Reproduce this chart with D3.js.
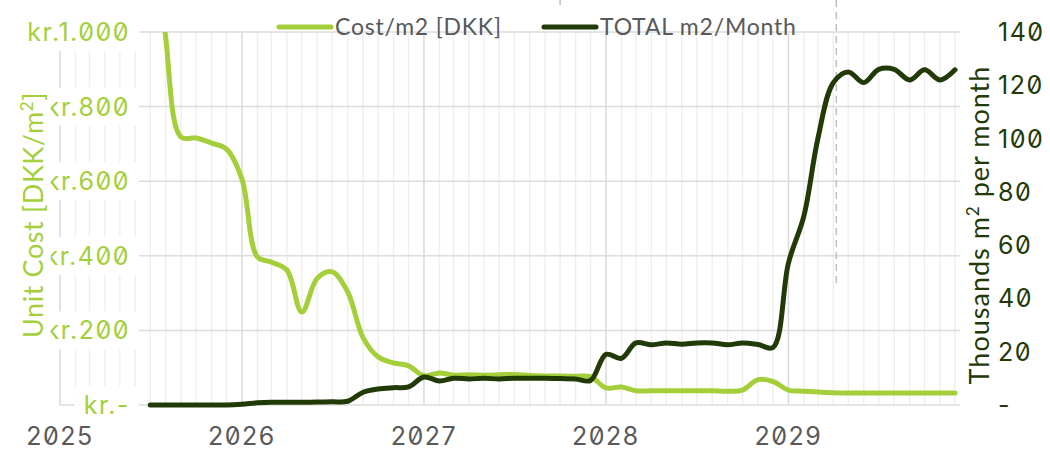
<!DOCTYPE html>
<html>
<head>
<meta charset="utf-8">
<script src="https://cdn.jsdelivr.net/npm/d3@7"></script>
<style>
  body { margin: 0; background: #fff; }
  svg { display: block; }
  .num { font-family: Inter, sans-serif; font-feature-settings: "zero"; letter-spacing: 1.5px; }
  .lbl { font-family: Lato, sans-serif; }
</style>
</head>
<body>
<div class="chart"></div>
<script>
// months Jul 2025 .. Dec 2029
var months = d3.timeMonth.range(new Date(2025, 6, 1), new Date(2030, 0, 1));

// Cost/m2 [DKK]
var costValues = [1500, 985, 718, 716, 702, 686,
                  605, 397, 383, 362, 249, 340, 357, 303, 180, 129, 113, 105,
                  78, 86, 80, 81, 80, 81, 82, 79, 78, 78, 77, 76,
                  46, 48, 38, 38, 38, 38, 38, 38, 37, 40, 68, 63,
                  40, 37, 35, 33, 32, 32, 32, 32, 32, 32, 32, 32];

// TOTAL m2/Month (thousands)
var totalValues = [0, 0, 0, 0, 0, 0,
                   0.3, 0.8, 1, 1, 1, 1.1, 1.2, 1.4, 4.8, 6, 6.5, 6.8,
                   10.5, 9, 10, 9.8, 10, 9.8, 10, 10, 10, 9.9, 9.8, 9.2,
                   19, 17.5, 23.3, 22.6, 23.3, 22.8, 23.3, 23.3, 22.6, 23.3, 22.7, 21.6,
                   53.3, 71, 100, 121, 125, 121, 126, 126, 122, 125.8, 122, 125.8];

var leftTicks = [0, 200, 400, 600, 800, 1000];
var leftLabels = ["kr.-", "kr.200", "kr.400", "kr.600", "kr.800", "kr.1.000"];
var rightTicks = [0, 20, 40, 60, 80, 100, 120, 140];
var rightLabels = ["-", "20", "40", "60", "80", "100", "120", "140"];
var years = [2025, 2026, 2027, 2028, 2029];

var seriesNames = ["Cost/m2 [DKK]", "TOTAL m2/Month"];
var lightGreen = "#a4cf3a", darkGreen = "#223a08";

var width = 1050, height = 452;
var plot = { left: 60, right: 960, top: 32, bottom: 405 };

var svg = d3.select(".chart").append("svg")
    .attr("width", width)
    .attr("height", height);

var x = d3.scaleTime()
    .domain([new Date(2025, 0, 1), new Date(2029, 11, 1)])
    .range([60, 955]);
var yL = d3.scaleLinear().domain([0, 1000]).range([plot.bottom, plot.top]);
var yR = d3.scaleLinear().domain([0, 140]).range([plot.bottom, plot.top]);

// grid
var monthTicks = d3.timeMonth.range(new Date(2025, 0, 1), new Date(2030, 0, 1));
svg.append("g").selectAll("line")
    .data(monthTicks)
    .enter().append("line")
    .attr("x1", function(d) { return x(d); })
    .attr("x2", function(d) { return x(d); })
    .attr("y1", plot.top)
    .attr("y2", plot.bottom)
    .attr("stroke", function(d) { return d.getMonth() === 0 ? "#d9d9d9" : "#efefef"; })
    .attr("stroke-width", 1.5);

svg.append("g").selectAll("line")
    .data(leftTicks)
    .enter().append("line")
    .attr("x1", plot.left)
    .attr("x2", plot.right)
    .attr("y1", function(d) { return yL(d); })
    .attr("y2", function(d) { return yL(d); })
    .attr("stroke", "#dcdcdc")
    .attr("stroke-width", 1.5);

// left tick labels with white boxes
var lt = svg.append("g").selectAll("g")
    .data(leftTicks)
    .enter().append("g");
lt.append("rect").attr("fill", "#fff");
lt.append("text")
    .attr("class", "num")
    .attr("x", 130)
    .attr("y", function(d) { return yL(d); })
    .attr("dy", "0.36em")
    .attr("text-anchor", "end")
    .attr("font-size", "25px")
    .attr("fill", lightGreen)
    .text(function(d, i) { return leftLabels[i]; });
lt.each(function() {
    var b = d3.select(this).select("text").node().getBBox();
    d3.select(this).select("rect")
      .attr("x", b.x - 9).attr("y", b.y - 4)
      .attr("width", b.width + 18).attr("height", b.height + 8);
});

// right tick labels
svg.append("g").selectAll("text")
    .data(rightTicks)
    .enter().append("text")
    .attr("class", "num")
    .attr("x", 998)
    .attr("y", function(d) { return yR(d); })
    .attr("dy", "0.36em")
    .attr("font-size", "25px")
    .attr("fill", darkGreen)
    .text(function(d, i) { return rightLabels[i]; });

// x labels
svg.append("g").selectAll("text")
    .data(years)
    .enter().append("text")
    .attr("class", "num")
    .attr("x", function(d) { return x(new Date(d, 0, 1)); })
    .attr("y", 445)
    .attr("text-anchor", "middle")
    .attr("font-size", "25px")
    .attr("fill", "#595959")
    .text(function(d) { return d; });

// axis titles
var lTitle = svg.append("g").attr("transform", "translate(33,215) rotate(-90)");
lTitle.append("rect").attr("fill", "#fff");
lTitle.append("text")
    .attr("class", "lbl")
    .attr("text-anchor", "middle")
    .attr("dy", "0.36em")
    .attr("font-size", "27px")
    .attr("letter-spacing", "0.6px")
    .attr("fill", lightGreen)
    .html('Unit Cost [DKK/m<tspan dy="-10" font-size="17px">2</tspan><tspan dy="10">]</tspan>');
var lb = lTitle.select("text").node().getBBox();
lTitle.select("rect").attr("x", lb.x - 4).attr("y", lb.y - 2)
    .attr("width", lb.width + 8).attr("height", lb.height + 4);

svg.append("text")
    .attr("class", "lbl")
    .attr("transform", "translate(979,225) rotate(-90)")
    .attr("text-anchor", "middle")
    .attr("dy", "0.36em")
    .attr("font-size", "27px")
    .attr("letter-spacing", "1px")
    .attr("fill", darkGreen)
    .html('Thousands m<tspan dy="-10" font-size="17px">2</tspan><tspan dy="10"> per month</tspan>');

// dashed markers
svg.append("line")
    .attr("x1", x(new Date(2029, 3, 7))).attr("x2", x(new Date(2029, 3, 7)))
    .attr("y1", 0).attr("y2", 285)
    .attr("stroke", "#bdbdbd").attr("stroke-width", 1.5)
    .attr("stroke-dasharray", "7,5");
svg.append("line")
    .attr("x1", x(new Date(2027, 9, 1))).attr("x2", x(new Date(2027, 9, 1)))
    .attr("y1", 0).attr("y2", 5)
    .attr("stroke", "#bdbdbd").attr("stroke-width", 1.5);

// lines
svg.append("clipPath").attr("id", "clip")
    .append("rect").attr("x", 0).attr("y", plot.top).attr("width", width).attr("height", height);

var costLine = d3.line()
    .x(function(d, i) { return x(months[i]); })
    .y(function(d) { return yL(d); })
    .curve(d3.curveCatmullRom.alpha(0.5));
var totalLine = d3.line()
    .x(function(d, i) { return x(months[i]); })
    .y(function(d) { return yR(d); })
    .curve(d3.curveCatmullRom.alpha(0.5));

svg.append("path")
    .datum(costValues)
    .attr("clip-path", "url(#clip)")
    .attr("d", costLine)
    .attr("fill", "none")
    .attr("stroke", lightGreen)
    .attr("stroke-width", 5)
    .attr("stroke-linecap", "round")
    .attr("stroke-linejoin", "round");

svg.append("path")
    .datum(totalValues)
    .attr("clip-path", "url(#clip)")
    .attr("d", totalLine)
    .attr("fill", "none")
    .attr("stroke", darkGreen)
    .attr("stroke-width", 5)
    .attr("stroke-linecap", "round")
    .attr("stroke-linejoin", "round");

// legend
var legend = svg.append("g");
var legendPos = [277, 542];
[lightGreen, darkGreen].forEach(function(c, i) {
    legend.append("line")
        .attr("x1", legendPos[i] + 2).attr("x2", legendPos[i] + 54)
        .attr("y1", 27).attr("y2", 27)
        .attr("stroke", c).attr("stroke-width", 5)
        .attr("stroke-linecap", "round");
    legend.append("text")
        .attr("class", "lbl")
        .attr("x", legendPos[i] + 58)
        .attr("y", 27)
        .attr("dy", "0.36em")
        .attr("font-size", "23px")
        .attr("letter-spacing", "0.8px")
        .attr("fill", "#595959")
        .text(seriesNames[i]);
});
</script>
</body>
</html>
